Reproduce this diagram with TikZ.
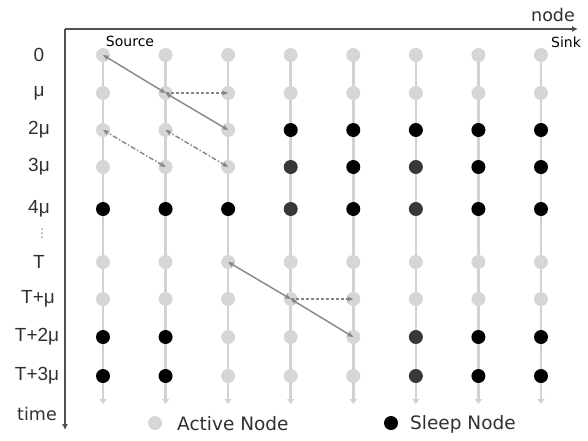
\documentclass[tikz,border=0pt]{standalone}
\usepackage{fontspec}
\setmainfont{DejaVu Sans}
\newfontfamily\labfont{Liberation Sans}
\usetikzlibrary{arrows.meta}
\definecolor{cL}{HTML}{D6D6D6}
\definecolor{cB}{HTML}{000000}
\definecolor{cD}{HTML}{383838}
\definecolor{lineL}{HTML}{D2D2D2}
\definecolor{arrG}{HTML}{858585}
\definecolor{axisG}{HTML}{505050}
\definecolor{txtG}{HTML}{303030}
\tikzset{
  dot/.style={circle, fill=#1, draw=none, minimum size=14pt, inner sep=0pt},
  vline/.style={draw=lineL, line width=2.6pt, -{Triangle[length=5pt,width=7pt]}},
  axis/.style={draw=axisG, line width=2.2pt, -{Latex[length=6pt,width=6pt]}},
  msg/.style={draw=arrG, line width=1.4pt, {Stealth[length=6pt,width=5pt]}-{Stealth[length=6pt,width=5pt]}},
  msgdash/.style={draw=arrG, line width=1.4pt, dashed, dash pattern=on 3pt off 2pt, -{Stealth[length=6pt,width=5pt]}},
  msgdd/.style={draw=arrG, line width=1.4pt, dash pattern=on 5pt off 2pt on 1.5pt off 2pt, {Stealth[length=6pt,width=5pt]}-{Stealth[length=6pt,width=5pt]}},
  rowlab/.style={font=\labfont\fontsize{19}{21}\selectfont, text=txtG, inner sep=0pt},
  axlab/.style={font=\fontsize{17.5}{19}\selectfont, text=txtG, inner sep=0pt},
  endlab/.style={font=\fontsize{14}{16}\selectfont, text=black, inner sep=0pt},
  leglab/.style={font=\fontsize{18.5}{20}\selectfont, text=txtG, inner sep=0pt, anchor=west}
}
\begin{document}
\begin{tikzpicture}[x=1pt,y=-1pt]
\useasboundingbox (0,0) rectangle (588,440);
% column coordinates
\foreach \c in {1,...,8} {
  \coordinate (top\c) at ({103+(\c-1)*62.57},55);
  \coordinate (bot\c) at ({103+(\c-1)*62.57},404);
}
\foreach \c in {1,...,8} { \draw[vline] (top\c) -- (bot\c); }
% axes
\coordinate (origin) at (65,29);
\coordinate (xend) at (578,29);
\coordinate (yend) at (65,430);
\draw[axis] (origin) -- (xend);
\draw[axis] (origin) -- (yend);
% dots
\foreach \r/\y/\pat in {
  1/55/{L,L,L,L,L,L,L,L},
  2/93/{L,L,L,L,L,L,L,L},
  3/130/{L,L,L,B,B,B,B,B},
  4/167/{L,L,L,D,B,D,B,B},
  5/209/{B,B,B,D,B,D,B,B},
  6/262/{L,L,L,L,L,L,L,L},
  7/299/{L,L,L,L,L,L,L,L},
  8/337/{B,B,L,L,L,D,B,B},
  9/376/{B,B,L,L,L,D,B,B}} {
  \foreach \t [count=\c] in \pat {
    \node[dot=c\t] (d\c-\r) at ({103+(\c-1)*62.57},\y) {};
  }
}
% row labels
\node[rowlab] (l1) at (39,55) {0};
\node[rowlab] (l2) at (39,93) {μ};
\node[rowlab] (l3) at (39,130) {2μ};
\node[rowlab] (l4) at (39,167) {3μ};
\node[rowlab] (l5) at (39,209) {4μ};
\node[inner sep=0pt, text=arrG, font=\fontsize{12}{12}\selectfont] (ldots) at (42,234) {⋮};
\node[rowlab] (l6) at (39,262) {T};
\node[rowlab] (l7) at (38,299) {T+μ};
\node[rowlab] (l8) at (37,337) {T+2μ};
\node[rowlab] (l9) at (37,376) {T+3μ};
\node[axlab] (time) at (37,414) {time};
\node[axlab] (nodelab) at (553,15) {node};
\node[endlab] (src) at (130,41) {Source};
\node[endlab] (snk) at (566,42) {Sink};
% messages
\draw[msg] (d1-1.center) -- (d2-2.center);
\draw[msg] (d2-2.center) -- (d3-3.center);
\draw[msgdash] (d2-2.center) -- (d3-2.center);
\draw[msgdd] (d2-4.center) -- (d1-3.center);
\draw[msgdd] (d3-4.center) -- (d2-3.center);
\draw[msg] (d3-6.center) -- (d4-7.center);
\draw[msg] (d4-7.center) -- (d5-8.center);
\draw[msgdash] (d4-7.center) -- (d5-7.center);
% legend
\node[dot=cL] (legA) at (155,423) {};
\node[leglab] (legAt) at (177,424) {Active Node};
\node[dot=cB] (legS) at (391,423) {};
\node[leglab] (legSt) at (410,424) {Sleep Node};
\end{tikzpicture}
\end{document}
